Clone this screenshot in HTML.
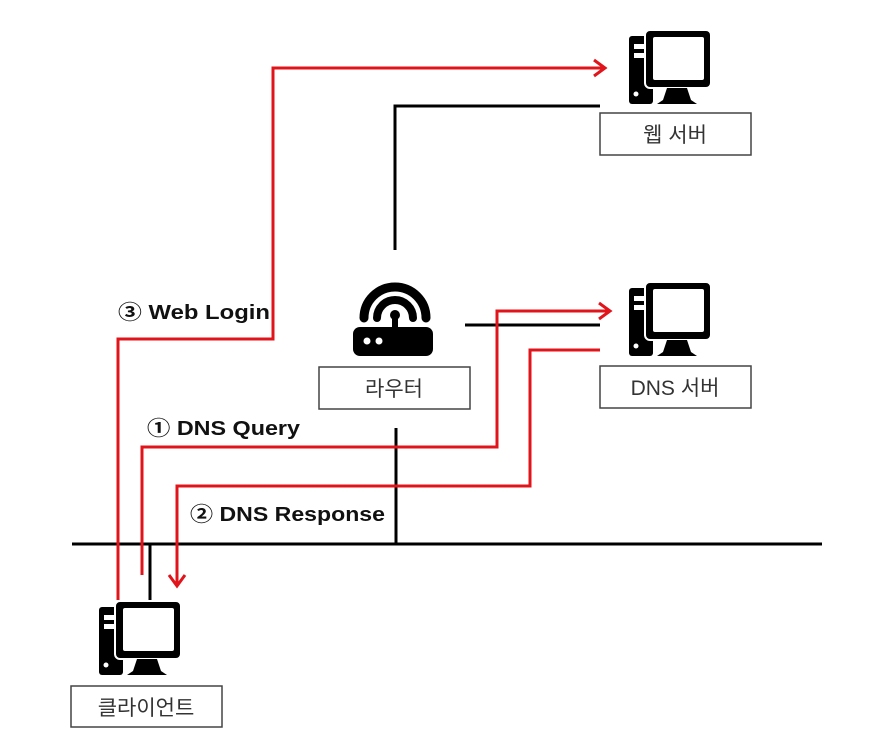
<!DOCTYPE html>
<html><head><meta charset="utf-8"><style>
body{margin:0;background:#fff;}
svg{display:block}
text{font-family:"Liberation Sans","Noto Sans CJK KR",sans-serif;}
</style></head><body>
<svg width="887" height="741" viewBox="0 0 887 741" xmlns="http://www.w3.org/2000/svg">
<defs>
<g id="pc">
  <rect x="0" y="6" width="24" height="68" rx="3" fill="#000"/>
  <rect x="5" y="14" width="14" height="5" fill="#fff"/>
  <rect x="5" y="23" width="14" height="5" fill="#fff"/>
  <circle cx="7" cy="64" r="2.5" fill="#fff"/>
  <rect x="16" y="0" width="66" height="58" rx="5" fill="#000" stroke="#fff" stroke-width="2"/>
  <rect x="24" y="7" width="51" height="43" rx="2" fill="#fff"/>
  <path d="M38 58 L58 58 L62 70 L68 74 L28 74 L34 70 Z" fill="#000"/>
</g>
</defs>
<g stroke="#000" stroke-width="3" fill="none">
  <polyline points="395,250 395,106 600,106"/>
  <line x1="465" y1="325" x2="600" y2="325"/>
  <line x1="72" y1="544" x2="822" y2="544"/>
  <line x1="396" y1="428" x2="396" y2="544"/>
  <line x1="150" y1="544" x2="150" y2="602"/>
</g>
<g stroke="#e0141a" stroke-width="3" fill="none">
  <polyline points="118,600 118,339 273,339 273,68 604,68"/>
  <polyline points="594,60 605,68 594,76"/>
  <polyline points="142,575 142,447 497,447 497,311 609,311"/>
  <polyline points="599,303 610,311 599,319"/>
  <polyline points="600,350 530,350 530,486 177,486 177,585"/>
  <polyline points="169,575 177,586 185,575"/>
</g>
<use href="#pc" x="629" y="30"/>
<use href="#pc" x="629" y="282"/>
<use href="#pc" x="99" y="601"/>
<g>
  <path d="M364 318 A31 31 0 0 1 426 318" stroke="#000" stroke-width="9" fill="none" stroke-linecap="round"/>
  <path d="M377 318 A18 18 0 0 1 413 318" stroke="#000" stroke-width="8" fill="none" stroke-linecap="round"/>
  <circle cx="395" cy="315" r="5" fill="#000"/>
  <rect x="392" y="315" width="6" height="14" fill="#000"/>
  <rect x="353" y="327" width="80" height="29" rx="7" fill="#000"/>
  <circle cx="367" cy="341" r="3.5" fill="#fff"/>
  <circle cx="379" cy="341" r="3.5" fill="#fff"/>
</g>
<g fill="#fff" stroke="#444" stroke-width="1.5">
  <rect x="600" y="113" width="151" height="42"/>
  <rect x="600" y="366" width="151" height="42"/>
  <rect x="319" y="367" width="151" height="42"/>
  <rect x="71" y="686" width="151" height="41"/>
</g>
<g font-size="21" fill="#333" text-anchor="middle">
  <text x="675" y="142">웹 서버</text>
  <text x="675" y="395">DNS 서버</text>
  <text x="394" y="396">라우터</text>
  <text x="146" y="715">클라이언트</text>
</g>
<g font-size="20" font-weight="bold" fill="#111">
  <text x="118" y="319" textLength="152" lengthAdjust="spacingAndGlyphs">③ Web Login</text>
  <text x="147" y="435" textLength="153" lengthAdjust="spacingAndGlyphs">① DNS Query</text>
  <text x="190" y="521" textLength="195" lengthAdjust="spacingAndGlyphs">② DNS Response</text>
</g>
</svg>
</body></html>
